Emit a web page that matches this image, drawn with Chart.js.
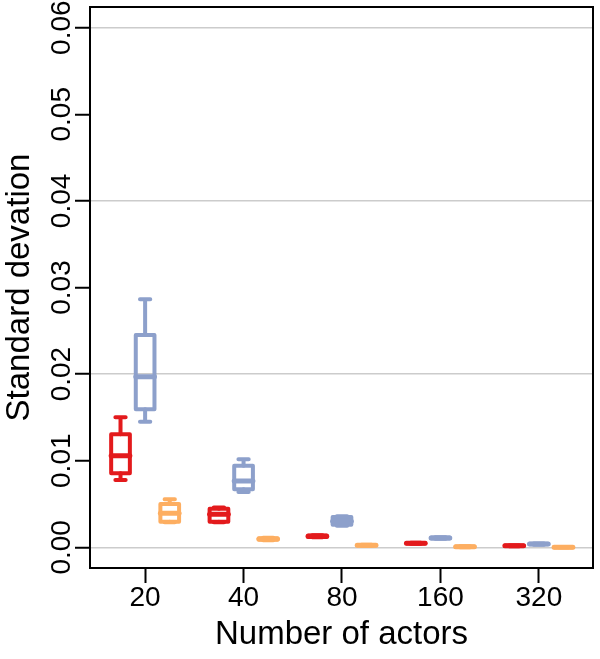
<!DOCTYPE html>
<html>
<head>
<meta charset="utf-8">
<script src="https://cdn.jsdelivr.net/npm/chart.js@4.4.1/dist/chart.umd.min.js"></script>
<style>
body { margin: 0; background: #fff; }
#wrap { width: 600px; height: 659px; }
</style>
</head>
<body>
<div id="wrap"><canvas id="sdChart" width="600" height="659"></canvas></div>
<script>
// groups on the x axis
var actors = ['20', '40', '80', '160', '320'];

// five number summaries per group: [min, q1, median, q3, max]
var redStats = [
	[0.00777, 0.00854, 0.01058, 0.01305, 0.01501],
	[0.00290, 0.00296, 0.00381, 0.00446, 0.00460],
	[0.00115, 0.00120, 0.00127, 0.00135, 0.00140],
	[0.00040, 0.00043, 0.00046, 0.00049, 0.00052],
	[0.00013, 0.00015, 0.00018, 0.00020, 0.00022]
];
var blueStats = [
	[0.01450, 0.01594, 0.01970, 0.02452, 0.02864],
	[0.00639, 0.00670, 0.00766, 0.00942, 0.01016],
	[0.00250, 0.00261, 0.00300, 0.00350, 0.00360],
	[0.00098, 0.00102, 0.00107, 0.00112, 0.00116],
	[0.00030, 0.00034, 0.00038, 0.00042, 0.00045]
];
var orangeStats = [
	[0.00290, 0.00296, 0.00393, 0.00500, 0.00554],
	[0.00080, 0.00088, 0.00096, 0.00104, 0.00110],
	[0.00017, 0.00020, 0.00023, 0.00026, 0.00029],
	[0.00002, 0.00005, 0.00007, 0.00009, 0.00011],
	[0.00000, 0.00001, 0.00002, 0.00003, 0.00004]
];

var yTicks = [0, 0.01, 0.02, 0.03, 0.04, 0.05, 0.06];

var FONT = '"Liberation Sans", Arial, Helvetica, sans-serif';

function series(stats, shift, color) {
	return {
		data: stats.map(function (s, i) { return { x: i + 1 + shift, y: s[2] }; }),
		stats: stats,
		shift: shift,
		boxColor: color,
		pointRadius: 0,
		showLine: false
	};
}

// draws the boxes, whiskers and medians through the chart scales
var boxPlugin = {
	id: 'boxes',
	afterDatasetsDraw: function (chart) {
		var ctx = chart.ctx;
		var xs = chart.scales.x, ys = chart.scales.y;
		var half = (xs.getPixelForValue(0.19) - xs.getPixelForValue(0)) / 2;
		var cap = half * 0.55;
		ctx.save();
		ctx.lineCap = 'round';
		ctx.lineJoin = 'round';
		chart.data.datasets.forEach(function (ds) {
			ctx.strokeStyle = ds.boxColor;
			ds.stats.forEach(function (s, i) {
				var cx = xs.getPixelForValue(i + 1 + ds.shift);
				var pMin = ys.getPixelForValue(s[0]);
				var pQ1 = ys.getPixelForValue(s[1]);
				var pMed = ys.getPixelForValue(s[2]);
				var pQ3 = ys.getPixelForValue(s[3]);
				var pMax = ys.getPixelForValue(s[4]);
				ctx.lineWidth = 4;
				ctx.beginPath();
				ctx.moveTo(cx, pMax); ctx.lineTo(cx, pQ3);
				ctx.moveTo(cx, pQ1); ctx.lineTo(cx, pMin);
				ctx.moveTo(cx - cap, pMax); ctx.lineTo(cx + cap, pMax);
				ctx.moveTo(cx - cap, pMin); ctx.lineTo(cx + cap, pMin);
				ctx.stroke();
				ctx.beginPath();
				ctx.rect(cx - half, pQ3, half * 2, Math.max(pQ1 - pQ3, 0.5));
				ctx.stroke();
				ctx.lineWidth = 5;
				ctx.beginPath();
				ctx.moveTo(cx - half, pMed); ctx.lineTo(cx + half, pMed);
				ctx.stroke();
			});
		});
		ctx.restore();
	},
	afterDraw: function (chart) {
		var ctx = chart.ctx;
		var a = chart.chartArea;
		var ys = chart.scales.y;
		ctx.save();
		ctx.strokeStyle = '#000';
		ctx.lineWidth = 2;
		ctx.strokeRect(a.left, a.top, a.right - a.left, a.bottom - a.top);
		// rotated y tick labels
		ctx.fillStyle = '#000';
		ctx.font = '28px ' + FONT;
		ctx.textAlign = 'center';
		ctx.textBaseline = 'alphabetic';
		yTicks.forEach(function (v) {
			ctx.save();
			ctx.translate(ys.right - 20, ys.getPixelForValue(v));
			ctx.rotate(-Math.PI / 2);
			ctx.fillText(v.toFixed(2), 0, 0);
			ctx.restore();
		});
		ctx.restore();
	}
};

var ctx = document.getElementById('sdChart').getContext('2d');
var chart = new Chart(ctx, {
	type: 'scatter',
	data: {
		datasets: [
			series(redStats, -0.25, '#E31A1C'),
			series(blueStats, 0, '#8DA0CB'),
			series(orangeStats, 0.25, '#FDAE61')
		]
	},
	options: {
		responsive: false,
		animation: false,
		events: [],
		layout: { padding: { top: 7, right: 7, left: 0, bottom: 0 } },
		plugins: {
			legend: { display: false },
			tooltip: { enabled: false }
		},
		scales: {
			x: {
				type: 'linear',
				min: 0.44,
				max: 5.55,
				afterBuildTicks: function (s) {
					s.ticks = actors.map(function (a, i) { return { value: i + 1 }; });
				},
				afterFit: function (s) { s.height = 91; },
				ticks: {
					autoSkip: false,
					maxRotation: 0,
					padding: -2,
					color: '#000',
					font: { family: FONT, size: 28 },
					callback: function (v) { return actors[Math.round(v) - 1]; }
				},
				grid: {
					drawOnChartArea: false,
					drawTicks: true,
					tickLength: 15,
					tickColor: '#000',
					tickWidth: 2,
					offset: false
				},
				border: { display: false },
				title: {
					display: true,
					text: 'Number of actors',
					color: '#000',
					font: { family: FONT, size: 33, lineHeight: 1 },
					padding: { top: 8, bottom: 8 }
				}
			},
			y: {
				min: -0.00239,
				max: 0.06239,
				afterBuildTicks: function (s) {
					s.ticks = yTicks.map(function (v) { return { value: v }; });
				},
				afterFit: function (s) { s.width = 90; },
				ticks: { display: false },
				grid: {
					color: function (c) {
						if (!c.tick) return 'rgba(0,0,0,0)';
						return Math.round(c.tick.value * 100) % 2 === 0 ? '#cccccc' : 'rgba(0,0,0,0)';
					},
					lineWidth: 1.5,
					drawTicks: true,
					tickLength: 15,
					tickColor: '#000',
					tickWidth: 2
				},
				border: { display: false },
				title: {
					display: true,
					text: 'Standard devation',
					color: '#000',
					font: { family: FONT, size: 33, lineHeight: 1 },
					padding: { top: 3, bottom: 3 }
				}
			}
		}
	},
	plugins: [boxPlugin]
});
</script>
</body>
</html>
